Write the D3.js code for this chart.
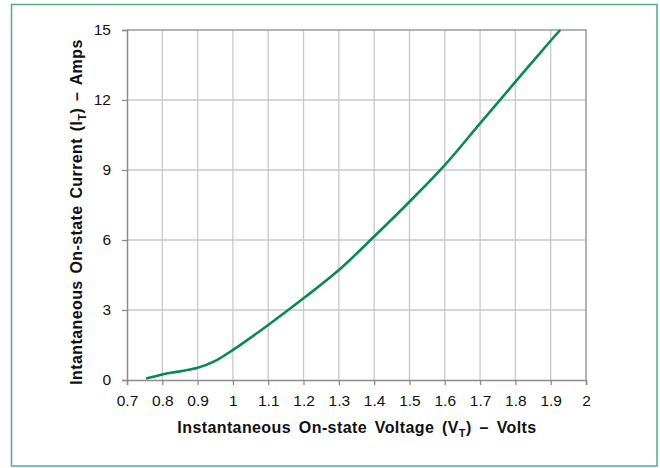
<!DOCTYPE html>
<html>
<head>
<meta charset="utf-8">
<script src="https://cdn.jsdelivr.net/npm/d3@7"></script>
<style>
  body { margin: 0; background: #fff; }
  text { font-family: "Liberation Sans", Arial, sans-serif; fill: #111; }
</style>
</head>
<body>
<div id="chart"></div>
<script>
// on-state characteristic
let voltage = [0.754, 0.8, 0.85, 0.9, 0.95, 1.0, 1.1, 1.2, 1.3, 1.4, 1.5, 1.6, 1.7, 1.8, 1.9, 1.927];
let current = [0.06, 0.24, 0.37, 0.52, 0.82, 1.29, 2.36, 3.5, 4.71, 6.15, 7.64, 9.21, 11.0, 12.78, 14.54, 15];

let xTicks = [0.7, 0.8, 0.9, 1, 1.1, 1.2, 1.3, 1.4, 1.5, 1.6, 1.7, 1.8, 1.9, 2];
let yTicks = [0, 3, 6, 9, 12, 15];

let width = 660,
  height = 468;

let svg = d3.select('#chart')
  .append('svg')
  .attr('width', width)
  .attr('height', height);

// green frame round everything
svg.append('rect')
  .attr('x', 11.5).attr('y', 4.5)
  .attr('width', 645.5).attr('height', 461.5)
  .attr('fill', 'none')
  .attr('stroke', '#52ad86')
  .attr('stroke-width', 1.5);

let x = d3.scaleLinear().domain([0.7, 2]).range([127, 586]);
let y = d3.scaleLinear().domain([0, 15]).range([380, 30]);

// grid
svg.append('g')
  .selectAll('line')
  .data(xTicks.slice(1, -1))
  .enter()
  .append('line')
  .attr('x1', d => x(d)).attr('x2', d => x(d))
  .attr('y1', y(0)).attr('y2', y(15))
  .attr('stroke', '#c9c9c9')
  .attr('stroke-width', 1.3);

svg.append('g')
  .selectAll('line')
  .data(yTicks.slice(1, -1))
  .enter()
  .append('line')
  .attr('x1', x(0.7)).attr('x2', x(2))
  .attr('y1', d => y(d)).attr('y2', d => y(d))
  .attr('stroke', '#c9c9c9')
  .attr('stroke-width', 1.3);

// top and right edges of the plot
svg.append('path')
  .attr('d', 'M' + x(0.7) + ',' + y(15) + 'H' + x(2) + 'V' + y(0))
  .attr('fill', 'none')
  .attr('stroke', '#9a9a9a')
  .attr('stroke-width', 1.5);

let xAxis = d3.axisBottom(x)
  .tickValues(xTicks)
  .tickFormat(d => String(d))
  .tickSize(5)
  .tickPadding(10);

let yAxis = d3.axisLeft(y)
  .tickValues(yTicks)
  .tickSize(5)
  .tickPadding(11);

let gx = svg.append('g')
  .attr('transform', 'translate(0,' + y(0) + ')')
  .call(xAxis);

let gy = svg.append('g')
  .attr('transform', 'translate(' + x(0.7) + ',0)')
  .call(yAxis);

[gx, gy].forEach(function (g) {
  g.select('.domain').attr('stroke', '#8c8c8c').attr('stroke-width', 1.5);
  g.selectAll('.tick line').attr('stroke', '#8c8c8c').attr('stroke-width', 1.3);
  g.selectAll('.tick text')
    .style('font-family', '"Liberation Sans", Arial, sans-serif')
    .style('font-size', '15.5px')
    .attr('fill', '#111');
});

// the curve
let line = d3.line()
  .x((d, i) => x(voltage[i]))
  .y((d, i) => y(current[i]))
  .curve(d3.curveCatmullRom.alpha(0.5));

svg.append('path')
  .datum(voltage)
  .attr('d', line)
  .attr('fill', 'none')
  .attr('stroke', '#0a8a52')
  .attr('stroke-width', 2.6);

// axis titles
let xTitle = svg.append('text')
  .attr('x', 357)
  .attr('y', 433)
  .attr('text-anchor', 'middle')
  .style('font-size', '16px')
  .style('font-weight', 'bold')
  .style('letter-spacing', '0.4px')
  .style('word-spacing', '3px');
xTitle.append('tspan').text('Instantaneous On-state Voltage (V');
xTitle.append('tspan').attr('dy', 4).style('font-size', '11px').text('T');
xTitle.append('tspan').attr('dy', -4).text(') – Volts');

let yTitle = svg.append('text')
  .attr('transform', 'translate(82,' + 212 + ') rotate(-90)')
  .attr('text-anchor', 'middle')
  .style('font-size', '16px')
  .style('font-weight', 'bold')
  .style('letter-spacing', '0.4px')
  .style('word-spacing', '2px');
yTitle.append('tspan').text('Intantaneous On-state Current (I');
yTitle.append('tspan').attr('dy', 4).style('font-size', '11px').text('T');
yTitle.append('tspan').attr('dy', -4).text(') – Amps');
</script>
</body>
</html>
